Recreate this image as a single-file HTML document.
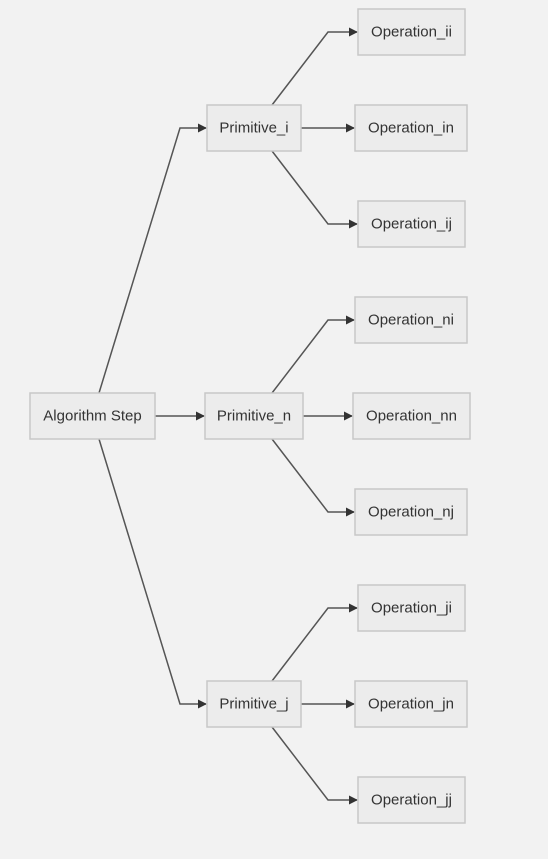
<!DOCTYPE html>
<html><head><meta charset="utf-8"><style>
html,body{margin:0;padding:0;background:#f2f2f2;}
svg{display:block;}
text{font-family:"Liberation Sans",sans-serif;font-size:15px;fill:#333;text-anchor:middle;dominant-baseline:central;}
rect{fill:#ececec;stroke:#c8c8c8;stroke-width:1.5;}
path{fill:none;stroke:#555;stroke-width:1.5;}
</style></head><body>
<svg width="548" height="859" viewBox="0 0 548 859">
<defs><marker id="a" viewBox="0 0 10 10" refX="9" refY="5" markerWidth="9" markerHeight="9" orient="auto" markerUnits="userSpaceOnUse"><path d="M0,0L10,5L0,10z" style="fill:#333;stroke:none"/></marker></defs>
<path d="M99,393L180,128L206,128" marker-end="url(#a)"/>
<path d="M155,416L204,416" marker-end="url(#a)"/>
<path d="M99,439L180,704L206,704" marker-end="url(#a)"/>
<path d="M272,105L328,32L357,32" marker-end="url(#a)"/>
<path d="M301,128L354,128" marker-end="url(#a)"/>
<path d="M272,151L328,224L357,224" marker-end="url(#a)"/>
<path d="M272,393L328,320L354,320" marker-end="url(#a)"/>
<path d="M303,416L352,416" marker-end="url(#a)"/>
<path d="M272,439L328,512L354,512" marker-end="url(#a)"/>
<path d="M272,681L328,608L357,608" marker-end="url(#a)"/>
<path d="M301,704L354,704" marker-end="url(#a)"/>
<path d="M272,727L328,800L357,800" marker-end="url(#a)"/>

<rect x="30" y="393" width="125" height="46"/><text x="92.5" y="416">Algorithm Step</text>
<rect x="207" y="105" width="94" height="46"/><text x="254" y="128">Primitive_i</text>
<rect x="205" y="393" width="98" height="46"/><text x="254" y="416">Primitive_n</text>
<rect x="207" y="681" width="94" height="46"/><text x="254" y="704">Primitive_j</text>

<rect x="358" y="9" width="107" height="46"/><text x="411.5" y="32">Operation_ii</text>
<rect x="355" y="105" width="112" height="46"/><text x="411" y="128">Operation_in</text>
<rect x="358" y="201" width="107" height="46"/><text x="411.5" y="224">Operation_ij</text>
<rect x="355" y="297" width="112" height="46"/><text x="411" y="320">Operation_ni</text>
<rect x="353" y="393" width="117" height="46"/><text x="411.5" y="416">Operation_nn</text>
<rect x="355" y="489" width="112" height="46"/><text x="411" y="512">Operation_nj</text>
<rect x="358" y="585" width="107" height="46"/><text x="411.5" y="608">Operation_ji</text>
<rect x="355" y="681" width="112" height="46"/><text x="411" y="704">Operation_jn</text>
<rect x="358" y="777" width="107" height="46"/><text x="411.5" y="800">Operation_jj</text>
</svg>
</body></html>
